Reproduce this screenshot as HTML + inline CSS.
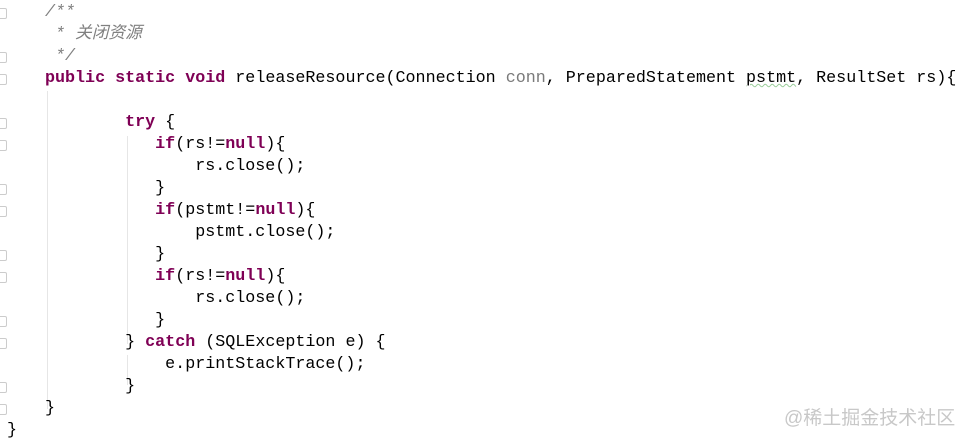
<!DOCTYPE html>
<html><head><meta charset="utf-8"><style>
html,body{margin:0;padding:0;background:#fff;width:962px;height:442px;overflow:hidden;position:relative}
pre{position:absolute;left:45px;top:2px;margin:0;font-family:"Liberation Mono","Noto Sans CJK SC",monospace;font-size:16.7px;line-height:22px;color:#000}
.k{color:#7f0055;font-weight:bold}
.c{color:#808080;font-style:italic}
.g{color:#7a7a7a}
.w{text-decoration:underline wavy #9c9;text-decoration-thickness:1px}
.guide{position:absolute;width:1px;background:#e6e6e6}
.gut{position:absolute;left:0;width:6px;height:9px;border:1px solid #ccc;border-left:none;border-radius:0 2px 2px 0}
.last{position:absolute;left:7px;top:420px;font-family:"Liberation Mono",monospace;font-size:16.7px;line-height:22px}
.wm{position:absolute;left:784px;top:403px;font-family:"Liberation Sans","Noto Sans CJK SC",sans-serif;font-size:19px;color:#c8c8c8}
</style></head><body>
<div class="guide" style="left:47px;top:91px;height:318px"></div>
<div class="guide" style="left:127px;top:136px;height:208px"></div>
<div class="guide" style="left:127px;top:355px;height:30px"></div>
<div class="gut" style="top:8px"></div>
<div class="gut" style="top:52px"></div>
<div class="gut" style="top:74px"></div>
<div class="gut" style="top:118px"></div>
<div class="gut" style="top:140px"></div>
<div class="gut" style="top:184px"></div>
<div class="gut" style="top:206px"></div>
<div class="gut" style="top:250px"></div>
<div class="gut" style="top:272px"></div>
<div class="gut" style="top:316px"></div>
<div class="gut" style="top:338px"></div>
<div class="gut" style="top:382px"></div>
<div class="gut" style="top:404px"></div>
<pre><span class="c">/**
 * 关闭资源
 */</span>
<span class="k">public</span> <span class="k">static</span> <span class="k">void</span> releaseResource(Connection <span class="g">conn</span>, PreparedStatement <span class="w">pstmt</span>, ResultSet rs){

        <span class="k">try</span> {
           <span class="k">if</span>(rs!=<span class="k">null</span>){
               rs.close();
           }
           <span class="k">if</span>(pstmt!=<span class="k">null</span>){
               pstmt.close();
           }
           <span class="k">if</span>(rs!=<span class="k">null</span>){
               rs.close();
           }
        } <span class="k">catch</span> (SQLException e) {
            e.printStackTrace();
        }
}</pre>
<div class="last">}</div>
<div class="wm">@稀土掘金技术社区</div>
</body></html>
